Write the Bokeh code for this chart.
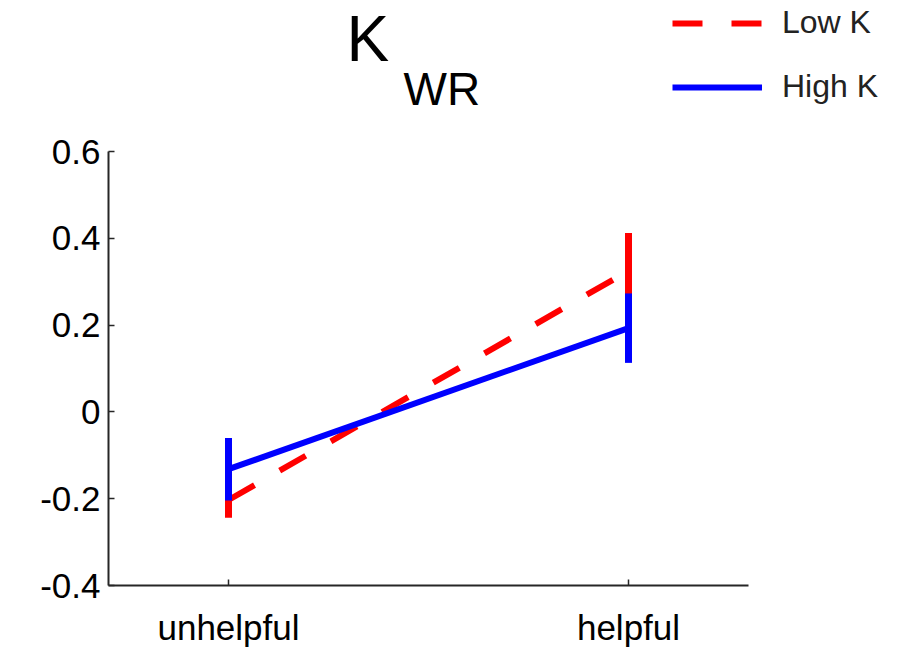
from bokeh.plotting import figure
from bokeh.models import (ColumnDataSource, FixedTicker, Label, Legend, LegendItem, Range1d)
from bokeh.embed import file_html
from bokeh.resources import INLINE

# conditions on the x axis
conditions = ["unhelpful", "helpful"]
cond_x = [1, 2]

# group means and error half-widths
low_k_mean = [-0.203, 0.325]
low_k_err = [0.041, 0.087]
high_k_mean = [-0.132, 0.193]
high_k_err = [0.072, 0.080]

y_ticks = [-0.4, -0.2, 0, 0.2, 0.4, 0.6]
y_tick_labels = ["-0.4", "-0.2", "0", "0.2", "0.4", "0.6"]

FONT = "Liberation Sans"
RED = "#ff0000"
BLUE = "#0000ff"
AXIS = "#262626"

# the frame reaches the top and right edges so the title and legend have room;
# the axes themselves are bounded to the data extent
p = figure(width=907, height=656, output_backend="svg", toolbar_location=None,
           x_range=Range1d(0.7, 2.6975), y_range=Range1d(-0.4, 0.948),
           min_border_left=108, min_border_right=0,
           min_border_top=0, min_border_bottom=71)
p.outline_line_color = None
p.xgrid.visible = False
p.ygrid.visible = False
p.background_fill_color = "white"
p.border_fill_color = "white"


def bars(means, errs):
    return ColumnDataSource(dict(
        x=cond_x,
        lo=[m - e for m, e in zip(means, errs)],
        hi=[m + e for m, e in zip(means, errs)],
    ))


low_src = ColumnDataSource(dict(x=cond_x, y=low_k_mean))
high_src = ColumnDataSource(dict(x=cond_x, y=high_k_mean))

low_line = p.line("x", "y", source=low_src, line_color=RED, line_width=6,
                  line_dash="30 29")
p.segment(x0="x", y0="lo", x1="x", y1="hi", source=bars(low_k_mean, low_k_err),
          line_color=RED, line_width=7)
high_line = p.line("x", "y", source=high_src, line_color=BLUE, line_width=6)
p.segment(x0="x", y0="lo", x1="x", y1="hi", source=bars(high_k_mean, high_k_err),
          line_color=BLUE, line_width=7)

# axes
for ax in (p.xaxis[0], p.yaxis[0]):
    ax.axis_line_color = AXIS
    ax.axis_line_width = 2
    ax.major_tick_line_color = AXIS
    ax.major_tick_line_width = 1.5
    ax.major_tick_in = 6
    ax.major_tick_out = 0
    ax.minor_tick_line_color = None
    ax.major_label_text_font = FONT
    ax.major_label_text_font_size = "35px"
    ax.major_label_text_color = "black"

p.xaxis.bounds = (0.7, 2.3)
p.yaxis.bounds = (-0.4, 0.6)
p.xaxis.ticker = FixedTicker(ticks=cond_x)
p.xaxis.major_label_overrides = {x: c for x, c in zip(cond_x, conditions)}
p.xaxis.major_label_standoff = 22
p.yaxis.ticker = FixedTicker(ticks=y_ticks)
p.yaxis.major_label_overrides = {t: s for t, s in zip(y_ticks, y_tick_labels)}
p.yaxis.major_label_standoff = 8

# title: K with subscript WR
p.add_layout(Label(x=238, y=547, x_units="screen", y_units="screen", text="K",
                   text_font=FONT, text_font_size="64px", text_color="black",
                   text_baseline="alphabetic"))
p.add_layout(Label(x=295, y=497, x_units="screen", y_units="screen", text="WR",
                   text_font=FONT, text_font_size="46px", text_color="black",
                   text_baseline="alphabetic"))

legend = Legend(items=[LegendItem(label="Low K", renderers=[low_line]),
                       LegendItem(label="High K", renderers=[high_line])],
                location=(564, 480))
legend.glyph_width = 90
legend.glyph_height = 30
legend.label_height = 30
legend.spacing = 27
legend.padding = 0
legend.margin = 0
legend.label_standoff = 20
legend.label_text_font = FONT
legend.label_text_font_size = "32px"
legend.label_text_color = "#222222"
legend.border_line_color = None
legend.background_fill_alpha = 0
p.add_layout(legend, "center")

open("out.html", "w").write(file_html(p, INLINE))
